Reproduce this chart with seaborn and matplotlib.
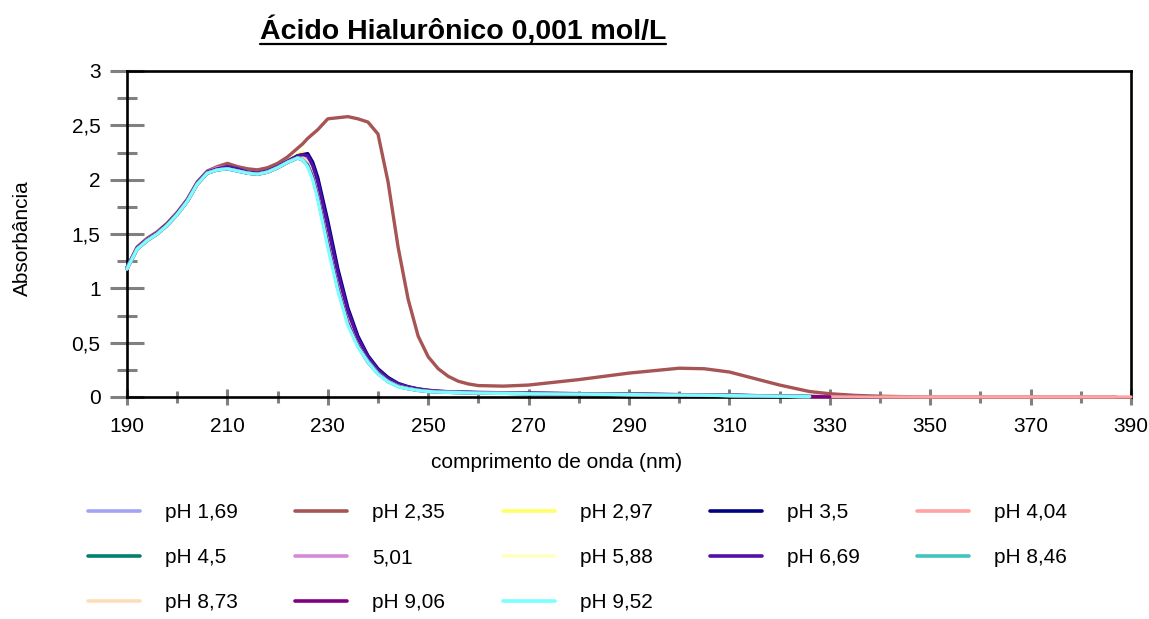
import matplotlib
matplotlib.use("Agg")
import matplotlib.pyplot as plt
from matplotlib.lines import Line2D
from matplotlib.ticker import MultipleLocator
import pandas as pd
import seaborn as sns

# Wavelength grid (nm); each series uses the first len(values) points
wavelength_nm = [190, 192, 194, 196, 198, 200, 202, 204, 206, 208, 210, 212, 214, 216, 218,
                 220, 222, 224, 225, 226, 227, 228, 230, 232, 234, 236, 238, 240, 242, 244,
                 246, 248, 250, 252, 254, 256, 258, 260, 265, 270, 280, 290, 300, 305, 310,
                 315, 320, 326, 330, 335, 340, 345, 350, 360, 370, 380, 387, 390]

abs_ph_1_69 = [1.19, 1.37, 1.45, 1.51, 1.59, 1.69, 1.81, 1.97, 2.07, 2.11, 2.12, 2.10, 2.07, 2.06, 2.08,
               2.12, 2.17, 2.21, 2.22, 2.20, 2.10, 1.95, 1.52, 1.10, 0.76, 0.52, 0.35, 0.24, 0.16, 0.115,
               0.088, 0.07, 0.058, 0.05, 0.046, 0.043, 0.041, 0.039, 0.036, 0.033, 0.029, 0.025, 0.02, 0.018, 0.015,
               0.011, 0.008, 0.004]
abs_ph_2_35 = [1.19, 1.38, 1.46, 1.52, 1.60, 1.70, 1.82, 1.98, 2.08, 2.12, 2.15, 2.12, 2.10, 2.09, 2.11,
               2.15, 2.21, 2.29, 2.33, 2.38, 2.42, 2.46, 2.56, 2.57, 2.58, 2.56, 2.53, 2.42, 1.98, 1.38,
               0.90, 0.56, 0.37, 0.26, 0.19, 0.145, 0.12, 0.105, 0.10, 0.11, 0.16, 0.22, 0.265, 0.26, 0.23,
               0.17, 0.11, 0.05, 0.03, 0.015, 0.007, 0.003, 0.0, 0.0, 0.0, 0.0, 0.0]
abs_ph_2_97 = [1.18, 1.36, 1.44, 1.51, 1.58, 1.68, 1.80, 1.96, 2.06, 2.10, 2.11, 2.09, 2.06, 2.05, 2.07,
               2.11, 2.17, 2.23, 2.25, 2.21, 2.08, 1.90, 1.46, 1.05, 0.72, 0.50, 0.34, 0.23, 0.155, 0.11,
               0.085, 0.068, 0.056, 0.049, 0.045, 0.042, 0.04, 0.038, 0.035, 0.032, 0.028, 0.024, 0.02, 0.017, 0.014,
               0.011, 0.007, 0.004, 0.002]
abs_ph_3_5 = [1.19, 1.37, 1.45, 1.51, 1.59, 1.69, 1.81, 1.97, 2.07, 2.10, 2.12, 2.10, 2.07, 2.06, 2.08,
              2.12, 2.17, 2.22, 2.23, 2.24, 2.16, 2.02, 1.62, 1.18, 0.82, 0.56, 0.38, 0.26, 0.18, 0.125,
              0.095, 0.075, 0.062, 0.054, 0.049, 0.046, 0.044, 0.042, 0.039, 0.036, 0.031, 0.027, 0.022, 0.02, 0.017,
              0.013, 0.009, 0.005, 0.003, 0.001, 0.0]
abs_ph_4_04 = [1.18, 1.36, 1.45, 1.51, 1.58, 1.68, 1.80, 1.96, 2.06, 2.10, 2.11, 2.09, 2.07, 2.05, 2.07,
               2.11, 2.16, 2.21, 2.21, 2.18, 2.07, 1.90, 1.47, 1.06, 0.73, 0.50, 0.34, 0.23, 0.155, 0.11,
               0.085, 0.068, 0.056, 0.049, 0.045, 0.042, 0.04, 0.038, 0.035, 0.032, 0.028, 0.024, 0.02, 0.017, 0.014,
               0.011, 0.007, 0.004, 0.002, 0.001, 0.0, 0.0, 0.0, 0.0, 0.0, 0.0, 0.0, 0.0]
abs_ph_4_5 = [1.18, 1.36, 1.44, 1.50, 1.58, 1.68, 1.80, 1.96, 2.06, 2.10, 2.11, 2.09, 2.06, 2.05, 2.07,
              2.11, 2.16, 2.21, 2.21, 2.17, 2.06, 1.89, 1.46, 1.05, 0.72, 0.49, 0.34, 0.23, 0.15, 0.108,
              0.083, 0.066, 0.055, 0.048, 0.044, 0.041, 0.039, 0.037, 0.034, 0.031, 0.027, 0.023, 0.019, 0.017, 0.014,
              0.011, 0.007, 0.004]
abs_ph_5_01 = [1.19, 1.37, 1.45, 1.51, 1.59, 1.69, 1.81, 1.97, 2.07, 2.11, 2.12, 2.10, 2.07, 2.06, 2.08,
               2.12, 2.17, 2.21, 2.22, 2.19, 2.09, 1.93, 1.50, 1.09, 0.75, 0.51, 0.35, 0.24, 0.16, 0.113,
               0.087, 0.069, 0.057, 0.05, 0.046, 0.043, 0.04, 0.038, 0.035, 0.032, 0.028, 0.024, 0.02, 0.018, 0.015,
               0.011, 0.008, 0.004]
abs_ph_5_88 = [1.18, 1.36, 1.44, 1.50, 1.58, 1.68, 1.80, 1.96, 2.06, 2.09, 2.10, 2.08, 2.06, 2.05, 2.07,
               2.11, 2.16, 2.20, 2.20, 2.16, 2.05, 1.87, 1.44, 1.03, 0.70, 0.48, 0.33, 0.22, 0.148, 0.105,
               0.08, 0.064, 0.054, 0.048, 0.044, 0.041, 0.039, 0.037, 0.034, 0.031, 0.027, 0.023, 0.019, 0.017, 0.014,
               0.01, 0.007, 0.004]
abs_ph_6_69 = [1.19, 1.37, 1.45, 1.51, 1.59, 1.69, 1.81, 1.97, 2.07, 2.10, 2.12, 2.10, 2.07, 2.06, 2.08,
               2.12, 2.17, 2.22, 2.23, 2.22, 2.13, 1.98, 1.57, 1.14, 0.79, 0.54, 0.37, 0.25, 0.17, 0.12,
               0.09, 0.072, 0.06, 0.052, 0.047, 0.044, 0.042, 0.04, 0.037, 0.034, 0.03, 0.026, 0.021, 0.019, 0.016,
               0.012, 0.008, 0.004]
abs_ph_8_46 = [1.18, 1.36, 1.44, 1.50, 1.58, 1.68, 1.80, 1.96, 2.06, 2.09, 2.10, 2.08, 2.06, 2.05, 2.07,
               2.11, 2.16, 2.20, 2.19, 2.14, 2.03, 1.85, 1.42, 1.01, 0.68, 0.47, 0.33, 0.22, 0.145, 0.10,
               0.078, 0.062, 0.052, 0.047, 0.043, 0.041, 0.039, 0.037, 0.034, 0.031, 0.027, 0.023, 0.019, 0.017, 0.014,
               0.01, 0.007, 0.004]
abs_ph_8_73 = [1.18, 1.36, 1.44, 1.50, 1.58, 1.68, 1.80, 1.96, 2.06, 2.09, 2.10, 2.08, 2.06, 2.05, 2.07,
               2.11, 2.16, 2.20, 2.19, 2.13, 2.02, 1.84, 1.41, 1.00, 0.68, 0.47, 0.32, 0.215, 0.142, 0.099,
               0.077, 0.061, 0.051, 0.046, 0.043, 0.041, 0.039, 0.037, 0.034, 0.031, 0.027, 0.023, 0.019, 0.017, 0.014,
               0.01, 0.007, 0.004]
abs_ph_9_06 = [1.18, 1.36, 1.44, 1.50, 1.58, 1.68, 1.80, 1.96, 2.06, 2.09, 2.10, 2.08, 2.06, 2.05, 2.07,
               2.11, 2.16, 2.20, 2.18, 2.13, 2.02, 1.84, 1.41, 1.00, 0.68, 0.47, 0.32, 0.215, 0.142, 0.098,
               0.076, 0.061, 0.051, 0.046, 0.043, 0.041, 0.039, 0.037, 0.034, 0.031, 0.027, 0.023, 0.019, 0.017, 0.014,
               0.01, 0.007, 0.004, 0.001]
abs_ph_9_52 = [1.18, 1.36, 1.44, 1.50, 1.58, 1.68, 1.80, 1.96, 2.06, 2.09, 2.10, 2.08, 2.06, 2.05, 2.07,
               2.11, 2.16, 2.20, 2.18, 2.12, 2.00, 1.82, 1.38, 0.98, 0.66, 0.46, 0.32, 0.21, 0.14, 0.095,
               0.075, 0.06, 0.05, 0.045, 0.042, 0.04, 0.038, 0.036, 0.033, 0.03, 0.026, 0.022, 0.018, 0.016, 0.013,
               0.01, 0.007, 0.004]

series_labels = ["pH 1,69", "pH 2,35", "pH 2,97", "pH 3,5", "pH 4,04", "pH 4,5", "5,01",
                 "pH 5,88", "pH 6,69", "pH 8,46", "pH 8,73", "pH 9,06", "pH 9,52"]
series_values = [abs_ph_1_69, abs_ph_2_35, abs_ph_2_97, abs_ph_3_5, abs_ph_4_04, abs_ph_4_5,
                 abs_ph_5_01, abs_ph_5_88, abs_ph_6_69, abs_ph_8_46, abs_ph_8_73, abs_ph_9_06,
                 abs_ph_9_52]
series_colors = ["#A3A3F5", "#A65454", "#FFFF66", "#000080", "#FFA3A3", "#00806E", "#D38AD8",
                 "#FFFFC4", "#5210A6", "#40C4C0", "#FFDDB8", "#800080", "#7AFFFF"]

x_ticks = [190, 210, 230, 250, 270, 290, 310, 330, 350, 370, 390]
y_ticks = [0, 0.5, 1, 1.5, 2, 2.5, 3]
y_tick_labels = ["0", "0,5", "1", "1,5", "2", "2,5", "3"]

records = []
for label, vals in zip(series_labels, series_values):
    for nm, a in zip(wavelength_nm, vals):
        records.append({"nm": nm, "absorbance": a, "serie": label})
df = pd.DataFrame(records)

sns.set_style("white")
plt.rcParams["font.family"] = ["Liberation Sans", "DejaVu Sans"]
plt.rcParams["text.color"] = "black"
plt.rcParams["axes.labelcolor"] = "black"
plt.rcParams["xtick.labelcolor"] = "black"
plt.rcParams["ytick.labelcolor"] = "black"

W, H = 1149, 619
fig = plt.figure(figsize=(W / 100, H / 100), dpi=100)
ax = fig.add_axes([127 / W, 1 - 397 / H, (1131 - 127) / W, (397 - 71) / H])

palette = dict(zip(series_labels, series_colors))
sns.lineplot(data=df, x="nm", y="absorbance", hue="serie", hue_order=series_labels,
             palette=palette, estimator=None, sort=True, linewidth=2.4, legend=False,
             ax=ax, zorder=1.2)
for ln in ax.lines:
    ln.set_clip_on(False)
    ln.set_solid_joinstyle("round")

ax.set_xlim(190, 390)
ax.set_ylim(0, 3)
ax.set_xticks(x_ticks)
ax.set_xticklabels([str(v) for v in x_ticks])
ax.set_yticks(y_ticks)
ax.set_yticklabels(y_tick_labels)
ax.xaxis.set_minor_locator(MultipleLocator(10))
ax.yaxis.set_minor_locator(MultipleLocator(0.25))
ax.set_xlabel("")
ax.set_ylabel("")

tick_grey = "#808080"
ax.tick_params(axis="x", which="major", direction="inout", length=11.5, width=2.2,
               color=tick_grey, labelcolor="black", labelsize=15, pad=9, bottom=True)
ax.tick_params(axis="x", which="minor", direction="inout", length=8.5, width=2.2,
               color=tick_grey, bottom=True)
ax.tick_params(axis="y", which="major", direction="inout", length=24, width=2.2,
               color=tick_grey, labelcolor="black", labelsize=15, pad=7, left=True)
ax.tick_params(axis="y", which="minor", direction="inout", length=15, width=2.2,
               color=tick_grey, left=True)

for side in ["left", "right", "top", "bottom"]:
    sp = ax.spines[side]
    sp.set_visible(True)
    sp.set_color("black")
    sp.set_linewidth(1.9)
    sp.set_zorder(0.9)

fig.text(557 / W, 1 - 463 / H, "comprimento de onda (nm)", ha="center", va="center",
         fontsize=15, color="black")
fig.text(22 / W, 1 - 238 / H, "Absorbância", ha="center", va="center", rotation=90,
         fontsize=15, color="black")

title = fig.text(260 / W, 1 - 40 / H, "Ácido Hialurônico 0,001 mol/L", ha="left",
                 va="baseline", fontsize=20.5, fontweight="bold", color="black")
fig.canvas.draw()
bb = title.get_window_extent()
fig.add_artist(Line2D([bb.x0 / W, bb.x1 / W], [1 - 44 / H, 1 - 44 / H],
                      transform=fig.transFigure, color="black", linewidth=1.6))

# legend reads row by row; matplotlib fills columns first, so reorder
handles = [Line2D([], [], color=c, linewidth=2.6) for c in series_colors]
ncol, nrow = 5, 3
order = []
for col in range(ncol):
    for row in range(nrow):
        idx = row * ncol + col
        if idx < len(series_labels):
            order.append(idx)
fig.legend([handles[i] for i in order], [series_labels[i] for i in order],
           loc="upper left", bbox_to_anchor=(88 / W, 1 - 503 / H), ncol=ncol,
           frameon=False, fontsize=15, handlelength=2.5, handletextpad=1.2,
           columnspacing=2.75, labelspacing=1.25, borderpad=0, borderaxespad=0,
           labelcolor="black")

fig.savefig("out.png", dpi=100)
